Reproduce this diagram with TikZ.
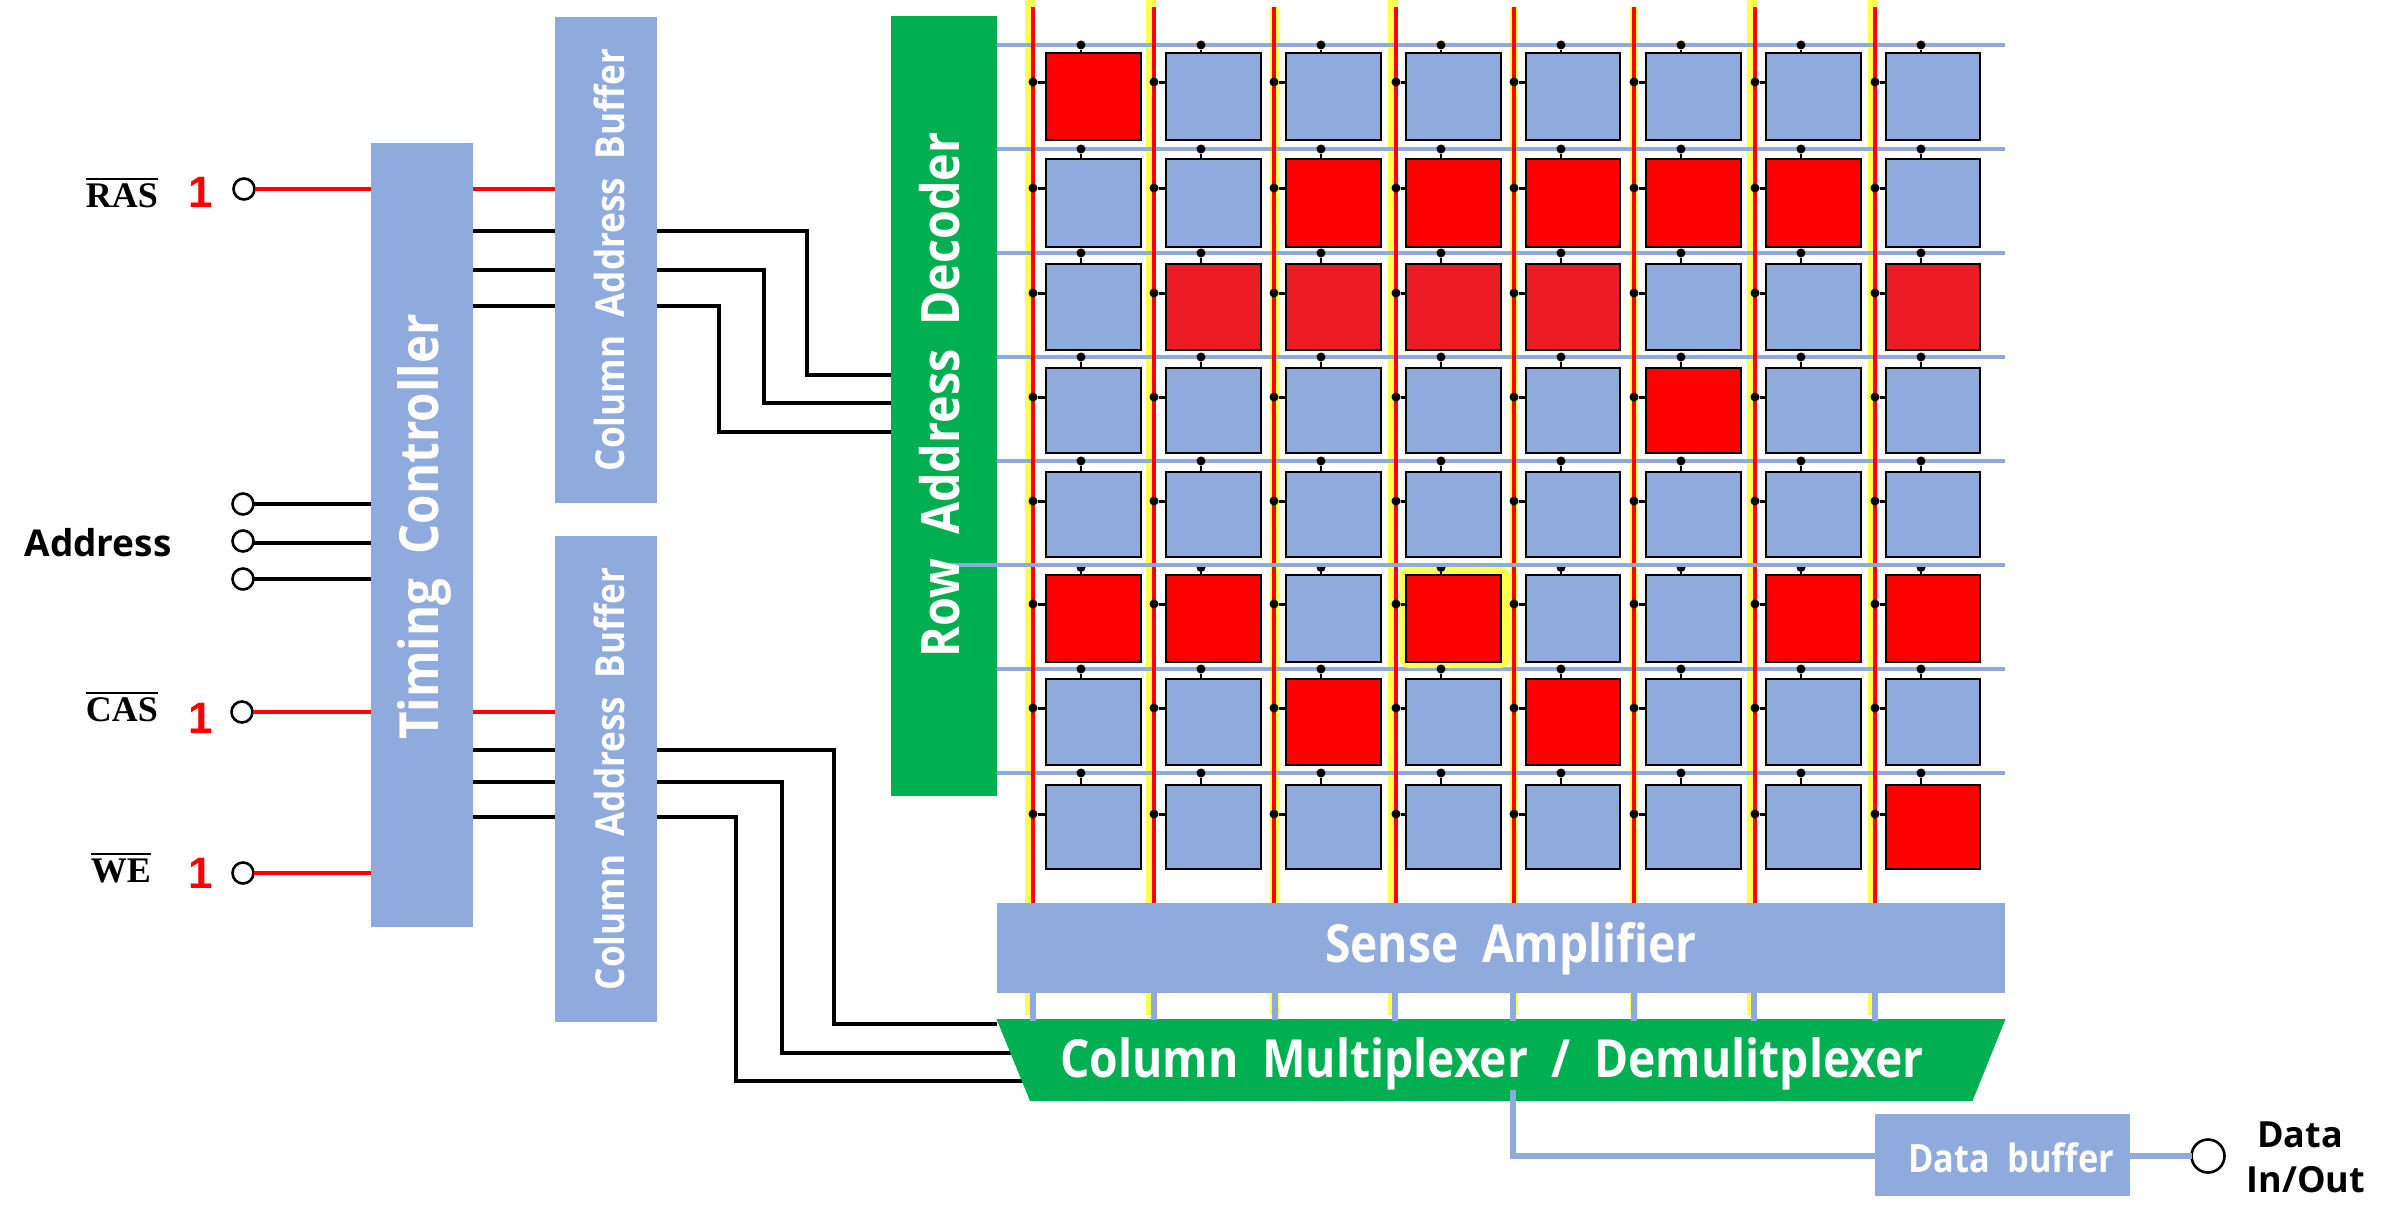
\documentclass[tikz,border=0pt]{standalone}
\usepackage{fontspec}
\newfontfamily\blockfont{Open Sans}
\newfontfamily\narrowfont[FakeStretch=0.88]{Open Sans}
\newfontfamily\capserif{Liberation Serif}
\newfontfamily\onefont{Liberation Sans}
\definecolor{cellblue}{HTML}{8FAADC}
\definecolor{deepgreen}{HTML}{00B050}
\definecolor{softred}{HTML}{ED1C24}
\definecolor{hiyellow}{HTML}{FFFF4D}
\newcommand{\blocktxt}[2]{{\narrowfont\bfseries\fontsize{#1}{#1}\selectfont\spaceskip=.45em\relax #2}}
\newcommand{\barred}[1]{\vbox{\hrule height 2pt\kern 4pt\hbox{\capserif\bfseries\fontsize{36}{36}\selectfont #1}}}
\foreach \p/\col in {1-1/red,2-3/red,2-4/red,2-5/red,2-6/red,2-7/red,3-2/softred,3-3/softred,3-4/softred,3-5/softred,3-8/softred,4-6/red,6-1/red,6-2/red,6-4/red,6-7/red,6-8/red,7-3/red,7-5/red,8-8/red}{\expandafter\xdef\csname cc\p\endcsname{\col}}
\tikzset{
 block/.style={rectangle,fill=cellblue,inner sep=0,outer sep=0},
 greenblock/.style={rectangle,fill=deepgreen,inner sep=0,outer sep=0},
 cell/.style={rectangle,draw=black,line width=1.3pt,inner sep=0,outer sep=0},
 pin/.style={circle,draw=black,fill=white,line width=2.6pt,minimum size=21pt,inner sep=0,outer sep=0},
 bigpin/.style={circle,draw=black,fill=white,line width=2.6pt,minimum size=33pt,inner sep=0,outer sep=0},
 dotn/.style={circle,fill=black,minimum size=9pt,inner sep=0,outer sep=0},
 sig/.style={draw=red,line width=4pt},
 bus/.style={draw=black,line width=4pt},
 wordline/.style={draw=cellblue,line width=3.5pt},
 bitblue/.style={draw=cellblue,line width=6pt},
 whitetxt/.style={text=white,inner sep=0,outer sep=0},
 labeltxt/.style={text=black,inner sep=0,outer sep=0},
 onetxt/.style={text=red,inner sep=0,outer sep=0,font=\onefont\bfseries\fontsize{44}{44}\selectfont},
}
\begin{document}
\begin{tikzpicture}[x=1pt,y=-1pt]
\useasboundingbox (0,0) rectangle (2394,1227);
% blocks
\node[block,minimum width=102pt,minimum height=784pt] (tc) at (422,535) {};
\node[block,minimum width=102pt,minimum height=486pt] (cab1) at (606,260) {};
\node[block,minimum width=102pt,minimum height=486pt] (cab2) at (606,779) {};
\node[greenblock,minimum width=106pt,minimum height=780pt] (rad) at (944,406) {};
\node[block,minimum width=1008pt,minimum height=90pt] (sa) at (1501,948) {};
\node[inner sep=0,outer sep=0,minimum width=1009pt,minimum height=82pt] (mux) at (1501,1060) {};
\node[block,minimum width=255pt,minimum height=82pt] (dbuf) at (2002.5,1155) {};
% pins
\node[pin] (pras) at (244,189) {};
\node[pin] (pa1) at (243,504) {};
\node[pin] (pa2) at (243,541) {};
\node[pin] (pa3) at (243,579) {};
\node[pin] (pcas) at (242,712) {};
\node[pin] (pwe) at (243,873) {};
\node[bigpin] (pdata) at (2208,1156) {};
% control wires
\draw[sig] (pras.east) -- (tc.west |- pras.east);
\draw[sig] (tc.east |- pras.east) -- (cab1.west |- pras.east);
\draw[sig] (pcas.east) -- (tc.west |- pcas.east);
\draw[sig] (tc.east |- pcas.east) -- (cab2.west |- pcas.east);
\draw[sig] (pwe.east) -- (tc.west |- pwe.east);
\draw[bus] (pa1.east) -- (tc.west |- pa1.east);
\draw[bus] (pa2.east |- 0,543) -- (tc.west |- 0,543);
\draw[bus] (pa3.east) -- (tc.west |- pa3.east);
\foreach \yy in {231,270,306}{\draw[bus] (tc.east |- 0,\yy) -- (cab1.west |- 0,\yy);}
\foreach \yy in {750,782,817}{\draw[bus] (tc.east |- 0,\yy) -- (cab2.west |- 0,\yy);}
\draw[bus] (cab1.east |- 0,231) -| (807,375) -- (rad.west |- 0,375);
\draw[bus] (cab1.east |- 0,270) -| (764,403) -- (rad.west |- 0,403);
\draw[bus] (cab1.east |- 0,306) -| (719,432) -- (rad.west |- 0,432);
\draw[bus] (cab2.east |- 0,750) -| (834,1024) -- (mux.west |- 0,1024);
\draw[bus] (cab2.east |- 0,782) -| (782,1053) -- (1020,1053);
\draw[bus] (cab2.east |- 0,817) -| (736,1081) -- (1030,1081);
% bit line highlights
\foreach \xa/\xb/\ya in {1025/1035/0,1146/1156/0,1270/1279/7,1388/1398/0,1510/1518/7,1630/1638/7,1747/1757/0,1868/1878/0}{
 \fill[hiyellow] (\xa,\ya) rectangle (\xb,903);
 \fill[hiyellow] (\xa,993) rectangle (\xb,1015);
}
% word lines
\foreach \yy in {45,149,253,357,461,669,773}{\draw[wordline] (rad.east |- 0,\yy) -- (sa.east |- 0,\yy);}
% bit lines
\foreach \xx in {1033,1154,1274,1396,1514,1634,1755,1875}{\draw[draw=red,line width=4pt] (\xx,7) -- (\xx,903);}
% selected cell halo
\fill[hiyellow,rounded corners=10pt] (1399,567) rectangle (1510,668);
% cells
\foreach \ri/\yt/\yb/\yl in {1/53/140/45,2/159/247/149,3/264/350/253,4/368/453/357,5/472/557/461,6/575/662/567.5,7/679/765/669,8/785/869/773}{
 \foreach \ci/\xl/\xr/\xb in {1/1046/1141/1033,2/1166/1261/1154,3/1286/1381/1274,4/1406/1501/1396,5/1526/1620/1514,6/1646/1741/1634,7/1766/1861/1755,8/1886/1980/1875}{
  \edef\fillc{\ifcsname cc\ri-\ci\endcsname\csname cc\ri-\ci\endcsname\else cellblue\fi}
  \pgfmathsetmacro\cxx{(\xl+\xr)/2}
  \pgfmathsetmacro\cyy{(\yt+\yb)/2}
  \pgfmathsetmacro\ww{\xr-\xl}
  \pgfmathsetmacro\hh{\yb-\yt}
  \pgfmathsetmacro\dtx{\xl+35}
  \pgfmathsetmacro\dly{\yt+29}
  \node[cell,fill=\fillc,minimum width=\ww pt,minimum height=\hh pt] (c-\ri-\ci) at (\cxx,\cyy) {};
  \node[dotn] (dt-\ri-\ci) at (\dtx,\yl) {};
  \node[dotn] (dl-\ri-\ci) at (\xb,\dly) {};
  \draw[black,line width=2.6pt] (dt-\ri-\ci) -- (dt-\ri-\ci |- c-\ri-\ci.north);
  \draw[black,line width=3pt] (dl-\ri-\ci) -- (c-\ri-\ci.west |- dl-\ri-\ci);
 }
}
% multiplexer
\fill[deepgreen] (mux.north west) -- (mux.north east) -- ++(-33,82) -- (1030,1101) -- cycle;
% stubs
\foreach \xx/\ye in {1033/1021,1154/1020,1275/1020,1395/1021,1513/1021,1634/1021,1754/1021,1875/1021}{\draw[bitblue] (\xx,993) -- (\xx,\ye);}
% data path
\coordinate (muxout) at (1513,1090);
\draw[bitblue,line join=miter] (muxout) |- (dbuf.west |- 0,1156);
\draw[bitblue] (dbuf.east |- pdata) -- (pdata.west);
% row 6 word line, on top
\coordinate (rowstart) at (930,565);
\draw[wordline,line width=4pt] (rowstart) -- (sa.east |- rowstart);
% block labels
\node[whitetxt,rotate=90] (ttc) at (424,527) {\blocktxt{54}{Timing Controller}};
\node[whitetxt,rotate=90] (tcab1) at (609,260) {\blocktxt{40}{Column Address Buffer}};
\node[whitetxt,rotate=90] (tcab2) at (609,779) {\blocktxt{40}{Column Address Buffer}};
\node[whitetxt,rotate=90] (trad) at (940,395) {\blocktxt{53}{Row Address Decoder}};
\node[whitetxt] (tsa) at (1511,949) {\blocktxt{52.5}{Sense Amplifier}};
\node[whitetxt] (tmux) at (1492,1064) {\blocktxt{52.5}{Column Multiplexer / Demulitplexer}};
\node[whitetxt] (tdb) at (2011,1158) {\blocktxt{39}{Data buffer}};
% pin labels
\node[labeltxt] (lras) at (122,193) {\barred{RAS}};
\node[labeltxt] (lcas) at (122,707) {\barred{CAS}};
\node[labeltxt] (lwe) at (121,868) {\barred{WE}};
\node[onetxt] (one1) at (201,192) {1};
\node[onetxt] (one2) at (201,718) {1};
\node[onetxt] (one3) at (201,873) {1};
\node[labeltxt] (laddr) at (98,543) {\blockfont\bfseries\fontsize{37}{37}\selectfont Address};
\node[labeltxt] (ldata1) at (2300,1135) {\blockfont\bfseries\fontsize{36}{36}\selectfont Data};
\node[labeltxt] (ldata2) at (2306,1180) {\blockfont\bfseries\fontsize{36}{36}\selectfont In/Out};
\end{tikzpicture}
\end{document}
